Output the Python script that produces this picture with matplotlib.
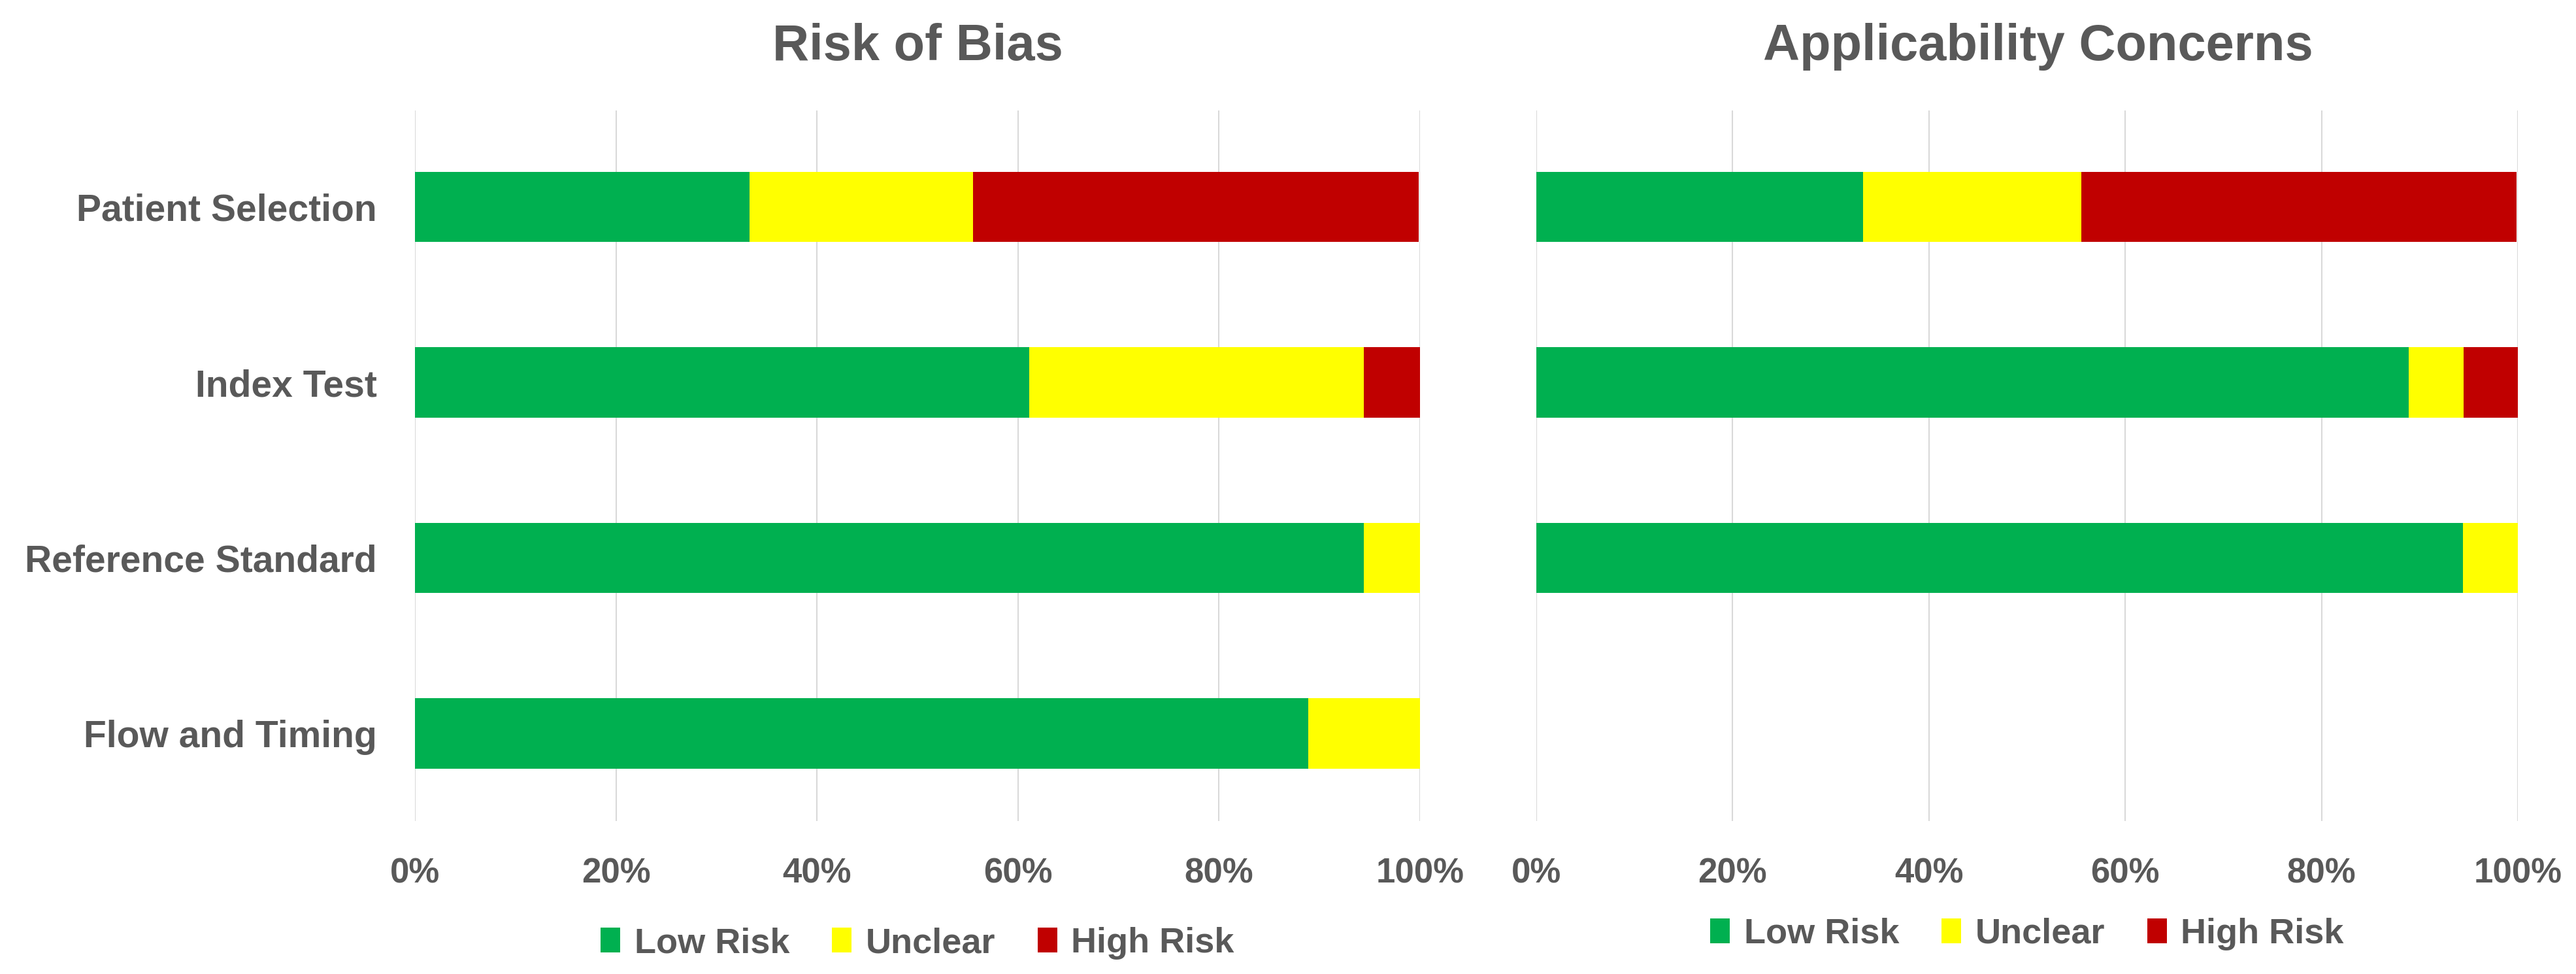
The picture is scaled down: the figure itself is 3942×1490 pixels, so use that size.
import numpy as np
import matplotlib
matplotlib.use("Agg")
from matplotlib import pyplot as plt
from matplotlib.patches import Patch

# global settings
plt.rcParams["font.family"] = ["Liberation Sans", "DejaVu Sans"]
plt.rcParams["font.weight"] = "bold"
text_color = "#595959"

categories = ["Patient Selection", "Index Test", "Reference Standard", "Flow and Timing"]
series = ["Low Risk", "Unclear", "High Risk"]
colors = ["#00B050", "#FFFF00", "#C00000"]

# percentages (18 studies)
bias_low = [33.3, 61.1, 94.4, 88.9]
bias_unclear = [22.2, 33.3, 5.6, 11.1]
bias_high = [44.4, 5.6, 0.0, 0.0]

appl_low = [33.3, 88.9, 94.4, 0.0]
appl_unclear = [22.2, 5.6, 5.6, 0.0]
appl_high = [44.4, 5.6, 0.0, 0.0]

xticks = [0, 20, 40, 60, 80, 100]
xtick_labels = ["0%", "20%", "40%", "60%", "80%", "100%"]

fig = plt.figure(figsize=(39.42, 14.90), dpi=100)
ax1 = fig.add_axes([0.1611, 0.157, 0.3901, 0.7295])
ax2 = fig.add_axes([0.5964, 0.157, 0.3810, 0.7295])


def draw(ax, low, unclear, high, title, title_x, show_labels, legend_y):
    y = np.arange(len(categories))
    left = np.zeros(len(categories))
    for vals, color, name in zip([low, unclear, high], colors, series):
        vals = np.array(vals)
        ax.barh(y, vals, left=left, height=0.4, color=color, label=name, zorder=3)
        left = left + vals
    ax.set_ylim(3.5, -0.55)
    ax.set_xlim(0, 100)
    ax.set_xticks(xticks)
    ax.set_xticklabels(xtick_labels)
    ax.set_yticks(y)
    ax.set_yticklabels(categories if show_labels else [])
    ax.tick_params(axis="both", length=0, labelcolor=text_color)
    ax.tick_params(axis="x", pad=40, labelsize=38)
    ax.tick_params(axis="y", pad=42, labelsize=41)
    ax.grid(axis="x", color="#d9d9d9", linewidth=1.5, zorder=0)
    for s in ax.spines.values():
        s.set_visible(False)
    fig.text(title_x, 0.952, title, ha="center", va="center",
             fontsize=56, color=text_color, fontweight="bold")
    handles = [Patch(facecolor=c, edgecolor="none") for c in colors]
    ax.legend(handles, series, loc="center", bbox_to_anchor=(0.5, legend_y),
              ncol=3, frameon=False, fontsize=39, labelcolor=text_color,
              handlelength=0.55, handleheight=0.7, handletextpad=0.4,
              columnspacing=1.2)


draw(ax1, bias_low, bias_unclear, bias_high, "Risk of Bias", 1404 / 3942, True, -0.172)
draw(ax2, appl_low, appl_unclear, appl_high, "Applicability Concerns", 3119 / 3942, False, -0.159)

fig.savefig("out.png", dpi=100)
